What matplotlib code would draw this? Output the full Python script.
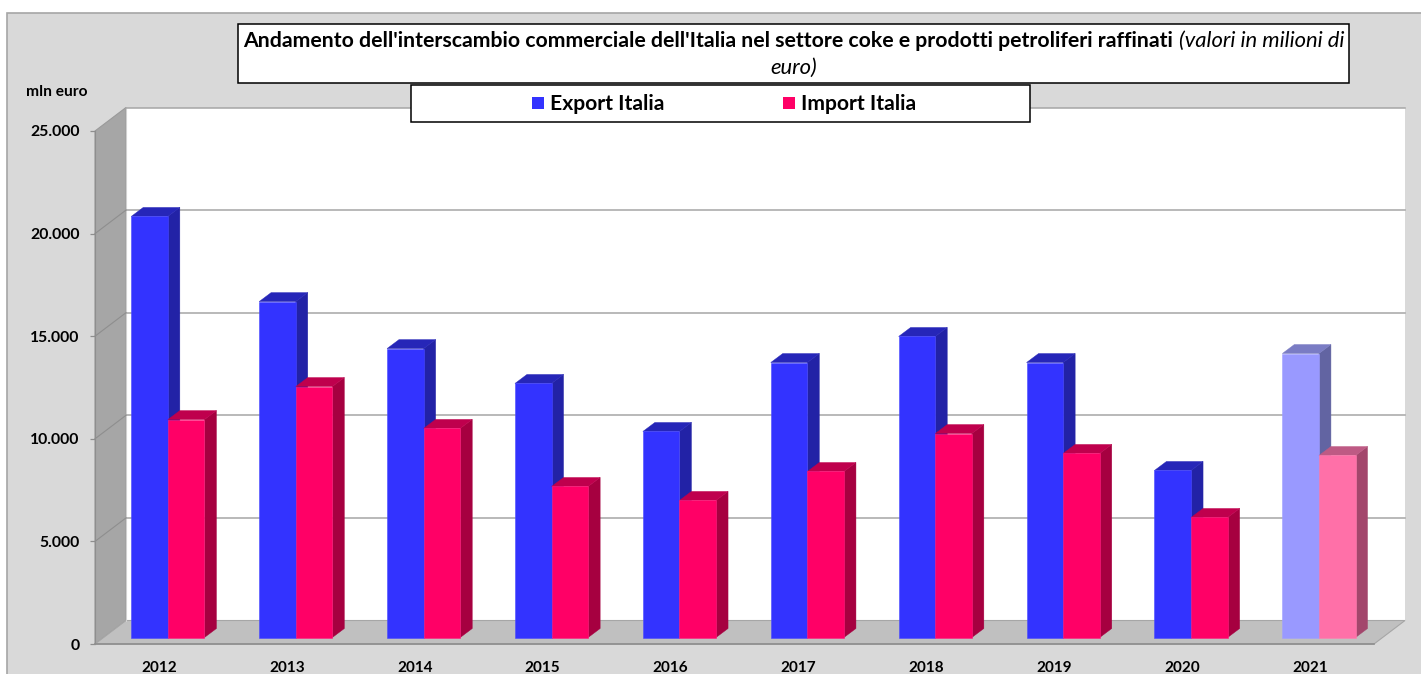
import matplotlib
matplotlib.use('Agg')
import matplotlib.pyplot as plt
from matplotlib.patches import Rectangle

W, H = 1421, 674

years = ['2012', '2013', '2014', '2015', '2016', '2017', '2018', '2019', '2020', '2021']
export_it = [20520, 16370, 14080, 12380, 10040, 13400, 14670, 13400, 8140, 13840]
import_it = [10620, 12230, 10190, 7360, 6680, 8090, 9940, 8970, 5850, 8870]
y_ticks = [0, 5000, 10000, 15000, 20000, 25000]
y_labels = ['0', '5.000', '10.000', '15.000', '20.000', '25.000']

# front, side, top colours; the last year is drawn paler
BLUE = ('#3333FF', '#2222A6', '#2626B8')
PINK = ('#FF0066', '#A60040', '#BF004D')
BLUE_LIGHT = ('#9999FF', '#6264A2', '#7A7CC4')
PINK_LIGHT = ('#FF70A8', '#A3466C', '#BE5A84')

plt.rcParams['font.family'] = ['Lato', 'DejaVu Sans']

fig = plt.figure(figsize=(W / 100, H / 100), dpi=100, facecolor='white')


def fx(px):
    return px / W


def fy(py):
    return 1 - py / H


# grey panel behind everything, runs off the right and bottom edges
fig.add_artist(Rectangle((fx(7), -0.05), 1.1, fy(13) + 0.05, transform=fig.transFigure,
                         facecolor='#D9D9D9', edgecolor='#A6A6A6', linewidth=1.2, zorder=-1))

left, right, top, bottom = 95, 1374, 131, 644
ax = fig.add_axes([fx(left), fy(bottom), fx(right - left), fy(top) - fy(bottom)], zorder=1)
ax.patch.set_visible(False)
ax.set_xlim(-0.5, len(years) - 0.5)
ax.set_ylim(0, 25000)

# pixels to data units
ux = len(years) / (right - left)
uy = 25000 / (bottom - top)
wall_dx, wall_dy = 31 * ux, 23.5 * uy
bar_dx, bar_dy = 12 * ux, 9 * uy
lift = 6.5 * uy
bar_w = 36.6 * ux
shift = 8.9 * ux

x0, x1 = -0.5, len(years) - 0.5
ymax = y_ticks[-1]

# back wall, side wall, floor
ax.fill([x0 + wall_dx, x1 + wall_dx, x1 + wall_dx, x0 + wall_dx],
        [wall_dy, wall_dy, ymax + wall_dy, ymax + wall_dy],
        color='white', lw=0, zorder=1, clip_on=False)
ax.plot([x0 + wall_dx, x1 + wall_dx], [ymax + wall_dy, ymax + wall_dy], color='#A6A6A6', lw=1.1,
        zorder=1.5, clip_on=False)
ax.fill([x0, x0 + wall_dx, x0 + wall_dx, x0], [0, wall_dy, ymax + wall_dy, ymax],
        facecolor='#A6A6A6', edgecolor='#9A9A9A', lw=0.8, zorder=1.2, clip_on=False)
ax.plot([x0 + wall_dx, x0 + wall_dx], [wall_dy, ymax + wall_dy], color='#D0D0D0', lw=0.8,
        zorder=1.3, clip_on=False)
ax.fill([x0, x1, x1 + wall_dx, x0 + wall_dx], [0, 0, wall_dy, wall_dy],
        facecolor='#C0C0C0', edgecolor='#A6A6A6', lw=0.8, zorder=1.2, clip_on=False)

for v in y_ticks[1:-1]:
    ax.plot([x0 + wall_dx, x1 + wall_dx], [v + wall_dy, v + wall_dy], color='#A6A6A6', lw=1.1,
            zorder=1.5, clip_on=False)
    ax.plot([x0, x0 + wall_dx], [v, v + wall_dy], color='#8E8E8E', lw=0.8, zorder=1.5, clip_on=False)


def draw_bar(xl, val, cols, edge, z):
    ax.bar(xl, val, bar_w, bottom=lift, align='edge', color=cols[0], edgecolor=edge, linewidth=0.4,
           zorder=z + 0.2, clip_on=False)
    xr = xl + bar_w
    yt = val + lift
    ax.fill([xr, xr + bar_dx, xr + bar_dx, xr], [lift, lift + bar_dy, yt + bar_dy, yt],
            facecolor=cols[1], edgecolor=cols[1], lw=0.3, zorder=z, clip_on=False)
    ax.fill([xl, xl + bar_dx, xr + bar_dx, xr], [yt, yt + bar_dy, yt + bar_dy, yt],
            facecolor=cols[2], edgecolor=cols[2], lw=0.3, zorder=z + 0.1, clip_on=False)


for i, year in enumerate(years):
    pale = year == '2021'
    draw_bar(i - bar_w + shift, export_it[i], BLUE_LIGHT if pale else BLUE, '#A0A0FF' if pale else '#4A4AFF', 3)
    draw_bar(i + shift, import_it[i], PINK_LIGHT if pale else PINK, '#FF80B0' if pale else '#FF2080', 4)

ax.set_xticks(range(len(years)))
ax.set_xticklabels(years, fontsize=11, fontweight='bold', color='black')
ax.set_yticks(y_ticks)
ax.set_yticklabels(y_labels, fontsize=11.3, fontweight='bold', color='black')
ax.tick_params(axis='x', length=0, pad=12)
ax.tick_params(axis='y', length=3.6, width=0.9, color='#8E8E8E', pad=7.5)
for side in ['top', 'right']:
    ax.spines[side].set_visible(False)
ax.spines['left'].set_color('#8E8E8E')
ax.spines['bottom'].set_color('#8E8E8E')
ax.spines['bottom'].set_linewidth(1.2)

# title box
fig.add_artist(Rectangle((fx(238), fy(83)), fx(1349 - 238), fy(24) - fy(83), transform=fig.transFigure,
                         facecolor='white', edgecolor='black', linewidth=1.1, zorder=10))
fig.text(fx(243), fy(41), "Andamento dell'interscambio commerciale dell'Italia nel settore coke e prodotti petroliferi raffinati",
         fontsize=15.3, fontweight='bold', va='center', ha='left', zorder=11)
fig.text(fx(1344), fy(41), '(valori in milioni di', fontsize=15.85, style='italic', va='center', ha='right', zorder=11)
fig.text(fx(794), fy(68), 'euro)', fontsize=15.85, style='italic', va='center', ha='center', zorder=11)

# legend box
fig.add_artist(Rectangle((fx(411), fy(122)), fx(1030 - 411), fy(85) - fy(122), transform=fig.transFigure,
                         facecolor='white', edgecolor='black', linewidth=1.1, zorder=10))
for sx, tx, col, name in [(532, 550, BLUE[0], 'Export Italia'), (783, 801, PINK[0], 'Import Italia')]:
    fig.add_artist(Rectangle((fx(sx), fy(109)), fx(12), fy(97) - fy(109), transform=fig.transFigure,
                             facecolor=col, edgecolor='none', zorder=11))
    fig.text(fx(tx), fy(104), name, fontsize=15.2, fontweight='bold', va='center', ha='left', zorder=11)

fig.text(fx(26), fy(92), 'mln euro', fontsize=11.2, fontweight='bold', va='center', ha='left')

fig.savefig('out.png', dpi=100)
